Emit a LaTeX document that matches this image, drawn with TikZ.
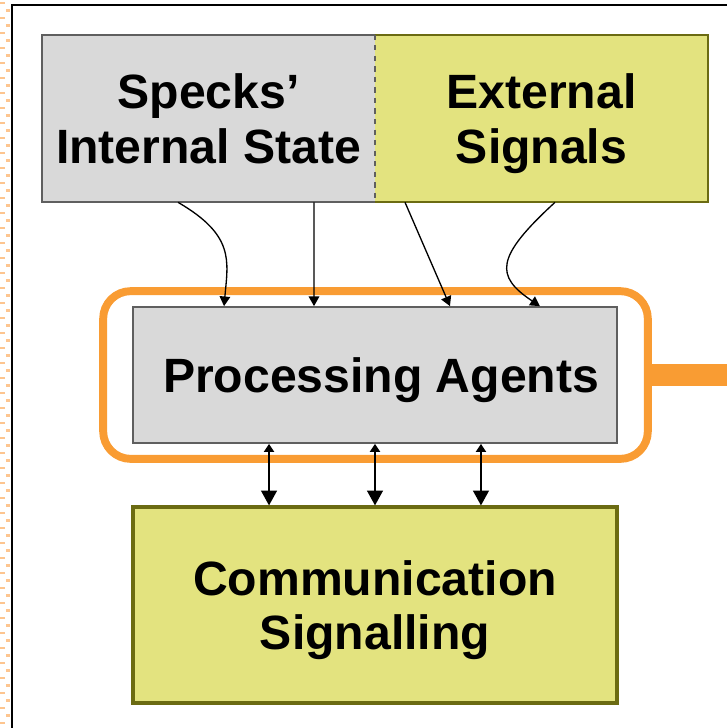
\documentclass[tikz,border=0pt]{standalone}
\usepackage{fontspec}
\setmainfont{Liberation Sans}
\usepackage{xcolor}
\usepackage{tikz}
\usetikzlibrary{arrows.meta}
\definecolor{boxgray}{HTML}{D9D9D9}
\definecolor{edgegray}{HTML}{5F5F5F}
\definecolor{boxyellow}{HTML}{E3E37F}
\definecolor{edgeolive}{HTML}{6B6B12}
\definecolor{ringorange}{HTML}{F99C33}
\definecolor{tickorange}{HTML}{FDC58F}
\tikzset{
  box/.style={inner sep=0, minimum width=9.68cm, align=center, text depth=0pt,
    font=\bfseries\fontsize{27.4}{31}\selectfont},
  halfbox/.style={box, minimum width=6.66cm, minimum height=3.34cm},
  feed/.style={line width=.75pt, -{Triangle[length=5.5pt,width=6pt]}},
  talk/.style={line width=1.2pt, {Triangle[length=4.6pt,width=5.7pt]}-{Triangle[length=8.5pt,width=9pt]}}
}

\begin{document}
\begin{tikzpicture}[x=.02cm, y=-.02cm]
    \useasboundingbox (0,0) rectangle (727,728);
    \foreach \y in {3,18,...,728} {
        \draw[tickorange, line width=1.5] (0,\y) -- (5,\y);
        \draw[tickorange, line width=1.5] (6,\y+7.5) -- (10,\y+7.5);
    }
    \draw[line width=1.5pt] (12,728) -- (12,5) -- (727,5);
    \node[halfbox, fill=boxgray] (state) at (208.5,118.5) {Specks'\\Internal State};
    \node[halfbox, fill=boxyellow] (signals) at (541.5,118.5) {External\\Signals};
    \draw[edgegray, line width=1pt] (state.north east) -| (state.south west) -- (state.south east);
    \draw[edgeolive, line width=1pt] (signals.north west) -| (signals.south east) -- (signals.south west);
    \draw[edgegray, line width=1pt, dashed] (state.north east) -- (state.south east);
    \node[box, minimum height=2.72cm, fill=boxgray, draw=edgegray, line width=1pt] (agents) at (375,375) {\hspace{7pt}Processing Agents};
    \draw[ringorange, line width=4.5pt, rounded corners=.55cm]
        ([shift={(-29,-15)}]agents.north west) rectangle ([shift={(30,15)}]agents.south east);
    \draw[ringorange, line width=12.5pt] ([xshift=.6cm]agents.east) -- (727,375);
    \node[box, minimum height=3.92cm, fill=boxyellow, draw=edgeolive, line width=1.8pt] (comm) at (375,605) {Communication\\Signalling};
    \draw[feed] ([xshift=-.61cm]state.south) .. controls +(57,33) and +(4,-45) .. ([xshift=-3.02cm]agents.north);
    \draw[feed] ([xshift=2.11cm]state.south) -- ([xshift=-1.22cm]agents.north);
    \draw[feed] ([xshift=-2.73cm]signals.south) -- ([xshift=1.5cm]agents.north);
    \draw[feed] ([xshift=.27cm]signals.south) .. controls +(-60,55) and +(-45,-30) .. ([xshift=3.3cm]agents.north);
    \foreach \dx in {-2.12,0,2.12}
        \draw[talk] ([xshift=\dx cm]agents.south) -- ([xshift=\dx cm]comm.north);
\end{tikzpicture}
\end{document}
